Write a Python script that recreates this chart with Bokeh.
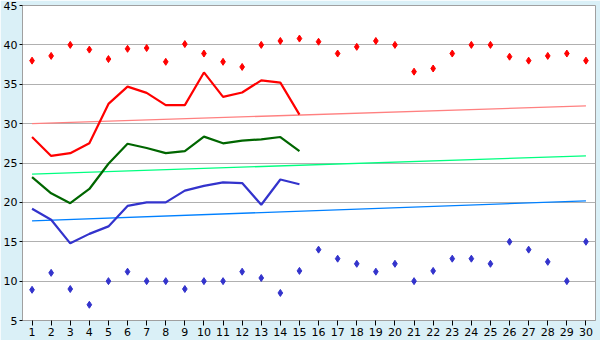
from bokeh.plotting import figure
from bokeh.embed import file_html
from bokeh.resources import INLINE
from bokeh.models import FixedTicker, Range1d

days = list(range(1, 31))
max_pts = [38.0, 38.6, 40.0, 39.4, 38.2, 39.5, 39.6, 37.85, 40.1, 38.9,
           37.85, 37.2, 40.0, 40.5, 40.8, 40.4, 38.9, 39.75, 40.5, 40.0,
           36.6, 37.0, 38.9, 40.0, 40.0, 38.5, 38.0, 38.6, 38.9, 38.0]
min_pts = [8.9, 11.05, 9.0, 7.0, 10.0, 11.2, 10.0, 10.0, 9.0, 10.0,
           10.0, 11.2, 10.4, 8.5, 11.3, 14.0, 12.85, 12.2, 11.2, 12.2,
           10.0, 11.3, 12.85, 12.85, 12.2, 15.0, 14.0, 12.45, 10.0, 15.0]
line_days = list(range(1, 16))
max_line = [28.3, 25.9, 26.25, 27.5, 32.5, 34.7, 33.9, 32.35, 32.35, 36.5,
            33.4, 33.95, 35.5, 35.2, 31.15]
mid_line = [23.2, 21.15, 19.9, 21.7, 24.9, 27.45, 26.9, 26.25, 26.5, 28.35,
            27.5, 27.85, 28.0, 28.3, 26.5]
min_line = [19.2, 17.8, 14.8, 16.0, 16.95, 19.55, 20.0, 20.0, 21.5, 22.1,
            22.55, 22.45, 19.7, 22.9, 22.3]
trend_days = [1, 30]
trend_max = [30.0, 32.25]
trend_mid = [23.6, 25.9]
trend_min = [17.65, 20.2]
y_ticks = [5, 10, 15, 20, 25, 30, 35, 40, 45]

p = figure(width=600, height=340, output_backend="svg", toolbar_location=None,
           x_range=Range1d(0.5, 30.5), y_range=Range1d(5, 45),
           min_border_left=20, min_border_right=5, min_border_top=5,
           min_border_bottom=20)
p.background_fill_color = "white"
p.border_fill_color = "#DAF0F7"
p.outline_line_color = "#A0A0A0"
p.outline_line_width = 1

p.xgrid.grid_line_color = None
p.ygrid.grid_line_color = "#B0B0B0"
p.ygrid.grid_line_width = 1

p.xaxis.ticker = FixedTicker(ticks=days)
p.yaxis.ticker = FixedTicker(ticks=y_ticks)
for ax in (p.xaxis, p.yaxis):
    ax.axis_line_color = "#A0A0A0"
    ax.major_tick_line_color = "#000000"
    ax.major_tick_out = 5
    ax.major_tick_in = 0
    ax.minor_tick_line_color = None
    ax.major_label_text_font = "DejaVu Sans"
    ax.major_label_text_font_size = "11px"
    ax.major_label_text_color = "#000000"
    ax.major_label_standoff = 2
p.yaxis.major_tick_out = 3

p.line(trend_days, trend_max, line_color="#FF8080", line_width=1.3)
p.line(trend_days, trend_mid, line_color="#00FF80", line_width=1.3)
p.line(trend_days, trend_min, line_color="#0080FF", line_width=1.3)

p.line(line_days, max_line, line_color="#FF0000", line_width=2.2)
p.line(line_days, mid_line, line_color="#006600", line_width=2.2)
p.line(line_days, min_line, line_color="#3333CC", line_width=2.2)

p.scatter(days, max_pts, marker="diamond", size=7, fill_color="#FF0000",
          line_color="#FF0000", line_width=1)
p.scatter(days, min_pts, marker="diamond", size=7, fill_color="#3333CC",
          line_color="#3333CC", line_width=1)

open("out.html", "w").write(file_html(p, INLINE))
